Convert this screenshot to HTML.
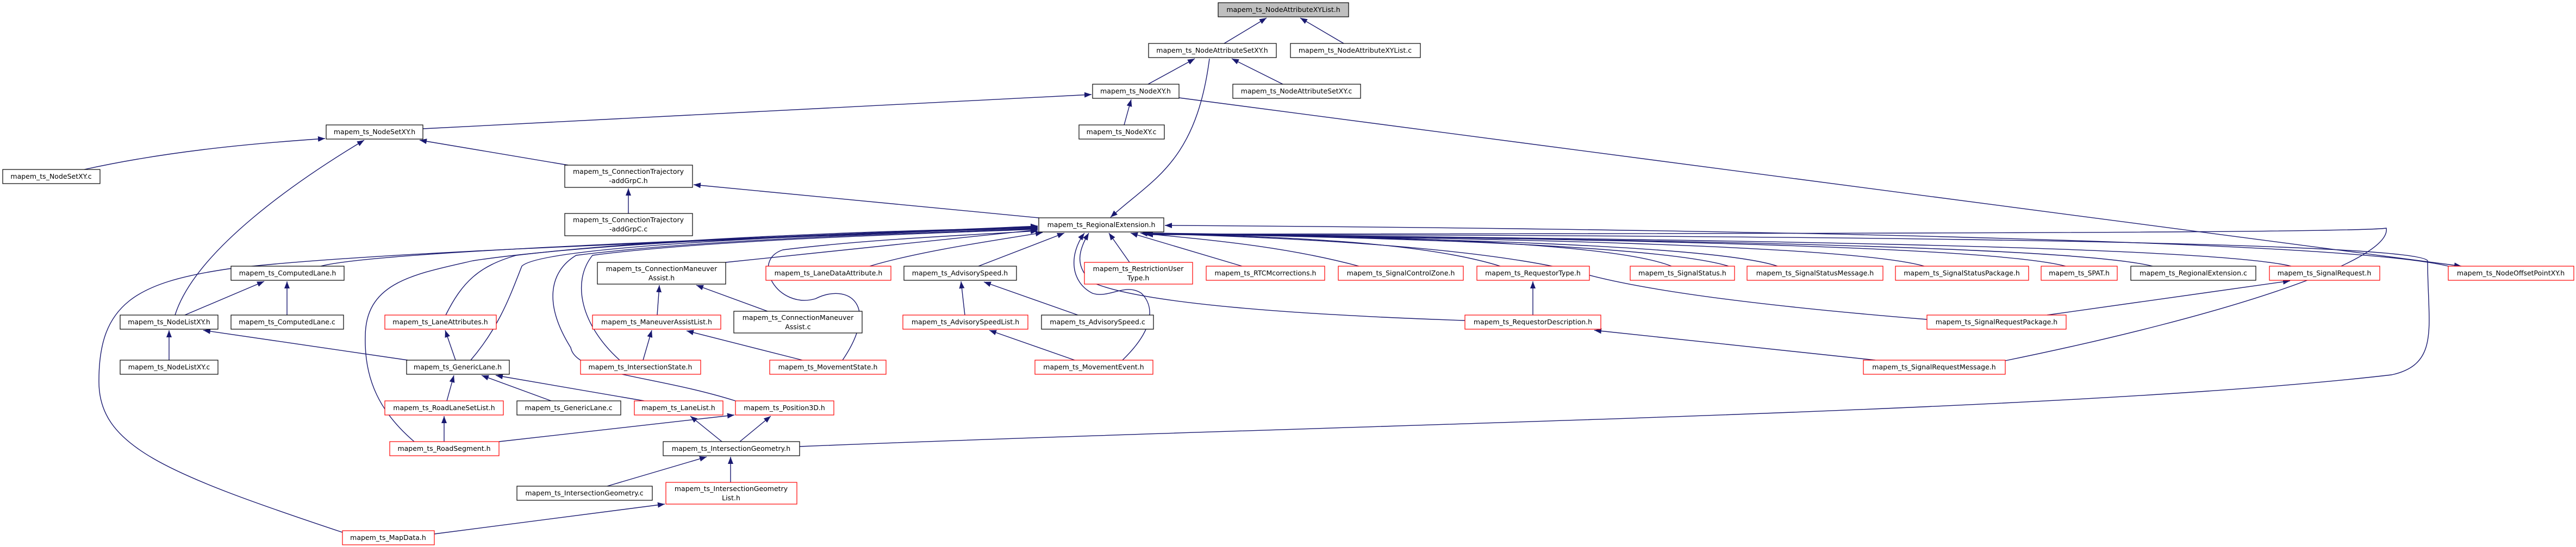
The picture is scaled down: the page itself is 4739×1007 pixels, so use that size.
<!DOCTYPE html>
<html><head><meta charset="utf-8"><style>
html,body{margin:0;padding:0;background:#fff;}
svg{display:block}
text{font-family:"DejaVu Sans","Liberation Sans",sans-serif;font-size:12.5px;fill:#000;text-anchor:middle}
.e{fill:none;stroke:#191970;stroke-width:1.4;marker-end:url(#a)}
.b{fill:#fff;stroke:#000;stroke-width:1.2}
.r{fill:#fff;stroke:#f00;stroke-width:1.2}
</style></head><body>
<svg width="4739" height="1007" viewBox="0 0 4739 1007" xmlns="http://www.w3.org/2000/svg">
<defs><marker id="a" markerUnits="userSpaceOnUse" markerWidth="14" markerHeight="10" refX="13" refY="5" orient="auto"><path d="M0,0 L13,5 L0,10 z" fill="#191970"/></marker></defs>
<g>
<path class="e" d="M2252,80 L2330,33"/>
<path class="e" d="M2472,80 L2392,33"/>
<path class="e" d="M2112,155 L2198,108"/>
<path class="e" d="M2360,155 L2266,108"/>
<path class="e" d="M2225,108 C2200,300 2120,330 2043,400"/>
<path class="e" d="M2068,230 L2081,183"/>
<path class="e" d="M778,237 L2008,174"/>
<path class="e" d="M2169,180 L4528,490"/>
<path class="e" d="M155,312 C300,280 450,265 598,255"/>
<path class="e" d="M1045,304 L772,258"/>
<path class="e" d="M322,580 C360,460 550,330 670,258"/>
<path class="e" d="M1156,393 L1156,347"/>
<path class="e" d="M1911,401 L1276,340"/>
<path class="e" d="M590,490 C700,460 1500,435 1909,416"/>
<path class="e" d="M630,980 C300,870 180,820 182,700 C182,560 250,520 420,495 C700,460 1500,438 1909,417"/>
<path class="e" d="M762,813 C700,760 670,700 672,620 C672,520 760,505 870,480 C1100,445 1600,428 1909,418"/>
<path class="e" d="M820,580 C850,520 880,490 950,470 C1200,440 1600,425 1909,419"/>
<path class="e" d="M866,663 C920,600 940,540 960,490 C1000,450 1600,428 1909,420"/>
<path class="e" d="M1353,738 C1200,690 1060,690 1050,640 C1000,560 1010,500 1060,470 C1300,440 1700,428 1909,421"/>
<path class="e" d="M1140,663 C1070,600 1050,520 1090,470 C1300,442 1700,430 1909,422"/>
<path class="e" d="M1335,483 L1909,423"/>
<path class="e" d="M1600,490 C1700,460 1850,440 1918,428"/>
<path class="e" d="M1550,663 C1620,560 1560,520 1500,550 C1430,570 1380,480 1440,460 C1600,440 1800,432 1909,425"/>
<path class="e" d="M1800,490 L1958,429"/>
<path class="e" d="M2078,483 L2040,429"/>
<path class="e" d="M2065,663 C2130,600 2120,560 2100,540 C2070,520 2040,550 2010,540 C1970,520 1965,470 1995,429"/>
<path class="e" d="M2695,590 C2400,580 2100,560 2010,520 C1975,490 1985,460 2003,429"/>
<path class="e" d="M2285,490 L2080,429"/>
<path class="e" d="M2500,490 C2350,450 2200,440 2098,429"/>
<path class="e" d="M2760,490 C2600,440 2300,435 2104,429"/>
<path class="e" d="M3075,490 C2950,440 2400,432 2108,429"/>
<path class="e" d="M3180,490 C3050,450 2500,436 2108,430"/>
<path class="e" d="M3270,490 C3150,450 2600,438 2108,430"/>
<path class="e" d="M3540,490 C3400,450 2700,438 2108,430"/>
<path class="e" d="M3800,490 C3650,450 2800,438 2108,430"/>
<path class="e" d="M3960,490 C3800,450 2900,440 2108,430"/>
<path class="e" d="M4215,490 C4050,450 3000,440 2108,430"/>
<path class="e" d="M3545,588 C3200,560 3000,530 2900,500 C2700,450 2300,435 2108,430"/>
<path class="e" d="M3689,664 C4100,580 4400,480 4390,420 C4330,430 3000,430 2108,431"/>
<path class="e" d="M1471,822 C2500,780 3800,760 4400,690 C4490,670 4466,600 4466,480 C4440,440 3000,432 2108,432"/>
<path class="e" d="M4504,490 C4300,440 3000,420 2143,415"/>
<path class="e" d="M340,580 L486,518"/>
<path class="e" d="M528,580 L528,518"/>
<path class="e" d="M1209,580 L1213,525"/>
<path class="e" d="M1412,573 L1281,525"/>
<path class="e" d="M311,663 L311,608"/>
<path class="e" d="M750,663 L374,608"/>
<path class="e" d="M838,663 L819,608"/>
<path class="e" d="M1183,663 L1199,608"/>
<path class="e" d="M1476,663 L1263,609"/>
<path class="e" d="M822,738 L835,691"/>
<path class="e" d="M1014,738 L886,691"/>
<path class="e" d="M1185,738 L912,691"/>
<path class="e" d="M817,813 L817,766"/>
<path class="e" d="M918,813 L1351,764"/>
<path class="e" d="M1328,813 L1270,766"/>
<path class="e" d="M1361,813 L1418,766"/>
<path class="e" d="M1117,895 L1300,841"/>
<path class="e" d="M1344,888 L1344,841"/>
<path class="e" d="M799,983 L1223,928"/>
<path class="e" d="M1775,580 L1768,518"/>
<path class="e" d="M1983,580 L1810,519"/>
<path class="e" d="M1977,663 L1820,608"/>
<path class="e" d="M2820,580 L2820,518"/>
<path class="e" d="M3450,663 L2933,608"/>
<path class="e" d="M3766,580 L4213,517"/>
</g>
<g>
<rect x="2241" y="5" width="240" height="26" fill="#bfbfbf" stroke="#000" stroke-width="1.2"/><text x="2361" y="22">mapem_ts_NodeAttributeXYList.h</text>
<rect class="b" x="2113" y="80" width="235" height="26"/><text x="2230" y="97">mapem_ts_NodeAttributeSetXY.h</text>
<rect class="b" x="2374" y="80" width="239" height="26"/><text x="2493" y="97">mapem_ts_NodeAttributeXYList.c</text>
<rect class="b" x="2010" y="155" width="159" height="26"/><text x="2089" y="172">mapem_ts_NodeXY.h</text>
<rect class="b" x="2268" y="155" width="235" height="26"/><text x="2385" y="172">mapem_ts_NodeAttributeSetXY.c</text>
<rect class="b" x="1985" y="230" width="157" height="26"/><text x="2063" y="247">mapem_ts_NodeXY.c</text>
<rect class="b" x="600" y="230" width="178" height="26"/><text x="689" y="247">mapem_ts_NodeSetXY.h</text>
<rect class="b" x="5" y="312" width="179" height="26"/><text x="94" y="329">mapem_ts_NodeSetXY.c</text>
<rect class="b" x="1039" y="304" width="235" height="41"/><text x="1156" y="320">mapem_ts_ConnectionTrajectory</text><text x="1156" y="337">-addGrpC.h</text>
<rect class="b" x="1039" y="393" width="235" height="41"/><text x="1156" y="409">mapem_ts_ConnectionTrajectory</text><text x="1156" y="426">-addGrpC.c</text>
<rect class="b" x="1911" y="401" width="230" height="26"/><text x="2026" y="418">mapem_ts_RegionalExtension.h</text>

<rect class="b" x="425" y="490" width="208" height="26"/><text x="529" y="507">mapem_ts_ComputedLane.h</text>
<rect class="b" x="1099" y="483" width="236" height="40"/><text x="1217" y="499">mapem_ts_ConnectionManeuver</text><text x="1217" y="516">Assist.h</text>
<rect class="r" x="1409" y="490" width="230" height="26"/><text x="1524" y="507">mapem_ts_LaneDataAttribute.h</text>
<rect class="b" x="1663" y="490" width="207" height="26"/><text x="1766" y="507">mapem_ts_AdvisorySpeed.h</text>
<rect class="r" x="1995" y="483" width="199" height="40"/><text x="2094" y="499">mapem_ts_RestrictionUser</text><text x="2094" y="516">Type.h</text>
<rect class="r" x="2219" y="490" width="218" height="26"/><text x="2328" y="507">mapem_ts_RTCMcorrections.h</text>
<rect class="r" x="2462" y="490" width="230" height="26"/><text x="2577" y="507">mapem_ts_SignalControlZone.h</text>
<rect class="r" x="2717" y="490" width="207" height="26"/><text x="2820" y="507">mapem_ts_RequestorType.h</text>
<rect class="r" x="2999" y="490" width="192" height="26"/><text x="3095" y="507">mapem_ts_SignalStatus.h</text>
<rect class="r" x="3214" y="490" width="250" height="26"/><text x="3339" y="507">mapem_ts_SignalStatusMessage.h</text>
<rect class="r" x="3487" y="490" width="245" height="26"/><text x="3609" y="507">mapem_ts_SignalStatusPackage.h</text>
<rect class="r" x="3755" y="490" width="140" height="26"/><text x="3825" y="507">mapem_ts_SPAT.h</text>
<rect class="b" x="3920" y="490" width="230" height="26"/><text x="4035" y="507">mapem_ts_RegionalExtension.c</text>
<rect class="r" x="4175" y="490" width="203" height="26"/><text x="4276" y="507">mapem_ts_SignalRequest.h</text>
<rect class="r" x="4504" y="490" width="231" height="26"/><text x="4619" y="507">mapem_ts_NodeOffsetPointXY.h</text>

<rect class="b" x="221" y="580" width="180" height="26"/><text x="311" y="597">mapem_ts_NodeListXY.h</text>
<rect class="b" x="425" y="580" width="207" height="26"/><text x="528" y="597">mapem_ts_ComputedLane.c</text>
<rect class="r" x="708" y="580" width="205" height="26"/><text x="810" y="597">mapem_ts_LaneAttributes.h</text>
<rect class="r" x="1090" y="580" width="236" height="26"/><text x="1208" y="597">mapem_ts_ManeuverAssistList.h</text>
<rect class="b" x="1350" y="573" width="236" height="40"/><text x="1468" y="589">mapem_ts_ConnectionManeuver</text><text x="1468" y="606">Assist.c</text>
<rect class="r" x="1661" y="580" width="230" height="26"/><text x="1776" y="597">mapem_ts_AdvisorySpeedList.h</text>
<rect class="b" x="1916" y="580" width="206" height="26"/><text x="2019" y="597">mapem_ts_AdvisorySpeed.c</text>
<rect class="r" x="2695" y="580" width="250" height="26"/><text x="2820" y="597">mapem_ts_RequestorDescription.h</text>
<rect class="r" x="3545" y="580" width="256" height="26"/><text x="3673" y="597">mapem_ts_SignalRequestPackage.h</text>

<rect class="b" x="221" y="663" width="180" height="26"/><text x="311" y="680">mapem_ts_NodeListXY.c</text>
<rect class="b" x="748" y="663" width="189" height="26"/><text x="842" y="680">mapem_ts_GenericLane.h</text>
<rect class="r" x="1068" y="663" width="221" height="26"/><text x="1178" y="680">mapem_ts_IntersectionState.h</text>
<rect class="r" x="1416" y="663" width="214" height="26"/><text x="1523" y="680">mapem_ts_MovementState.h</text>
<rect class="r" x="1904" y="663" width="217" height="26"/><text x="2012" y="680">mapem_ts_MovementEvent.h</text>
<rect class="r" x="3428" y="663" width="261" height="26"/><text x="3558" y="680">mapem_ts_SignalRequestMessage.h</text>

<rect class="r" x="708" y="738" width="218" height="26"/><text x="817" y="755">mapem_ts_RoadLaneSetList.h</text>
<rect class="b" x="951" y="738" width="191" height="26"/><text x="1046" y="755">mapem_ts_GenericLane.c</text>
<rect class="r" x="1167" y="738" width="163" height="26"/><text x="1248" y="755">mapem_ts_LaneList.h</text>
<rect class="r" x="1353" y="738" width="181" height="26"/><text x="1443" y="755">mapem_ts_Position3D.h</text>

<rect class="r" x="717" y="813" width="201" height="26"/><text x="817" y="830">mapem_ts_RoadSegment.h</text>
<rect class="b" x="1220" y="813" width="251" height="26"/><text x="1345" y="830">mapem_ts_IntersectionGeometry.h</text>
<rect class="b" x="951" y="895" width="249" height="26"/><text x="1075" y="912">mapem_ts_IntersectionGeometry.c</text>
<rect class="r" x="1225" y="888" width="241" height="40"/><text x="1345" y="904">mapem_ts_IntersectionGeometry</text><text x="1345" y="921">List.h</text>
<rect class="r" x="630" y="977" width="169" height="26"/><text x="714" y="994">mapem_ts_MapData.h</text>
</g>
</svg>
</body></html>
